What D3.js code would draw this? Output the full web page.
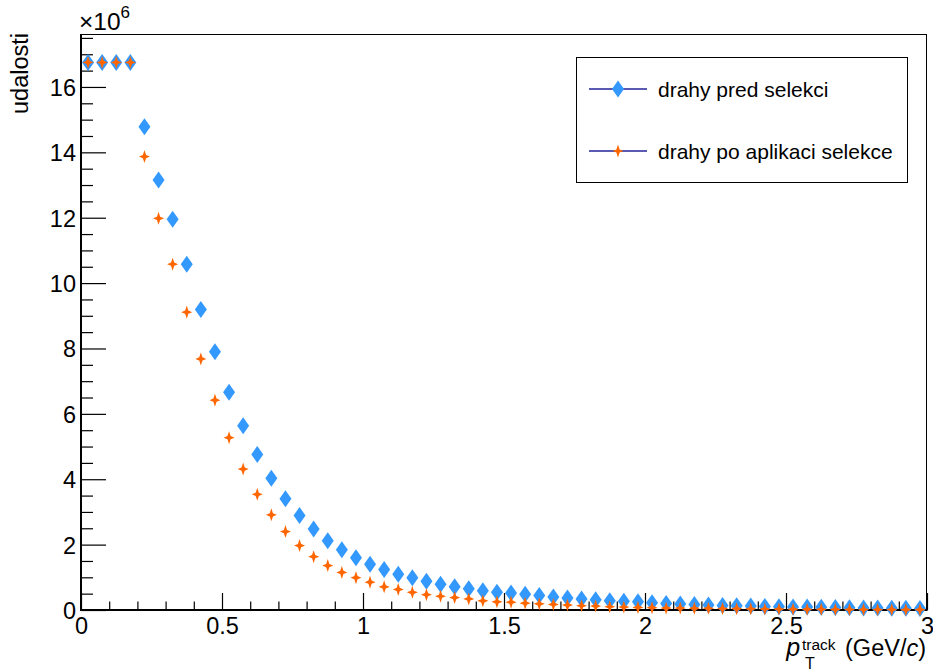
<!DOCTYPE html>
<html>
<head>
<meta charset="utf-8">
<script src="https://cdn.jsdelivr.net/npm/d3@7"></script>
<style>
  html, body { margin: 0; padding: 0; background: #fff; }
  svg { display: block; }
  text { font-family: "Liberation Sans", Arial, Helvetica, sans-serif; fill: #000; }
</style>
</head>
<body>
<svg id="chart" width="933" height="671"></svg>
<script>
// ---------------- DATA ----------------
const xMin = 0, xMax = 3, binWidth = 0.05, nBins = 60;
const seriesNames = ["drahy pred selekci", "drahy po aplikaci selekce"];
// values in units of 10^6
const beforeSel = [
  16.75, 16.75, 16.75, 16.75, 14.78, 13.15, 11.95, 10.58, 9.19, 7.90,
  6.66, 5.64, 4.76, 4.03, 3.40, 2.89, 2.48, 2.12, 1.84, 1.60,
  1.40, 1.24, 1.09, 0.99, 0.88, 0.79, 0.71, 0.65, 0.59, 0.54,
  0.52, 0.48, 0.44, 0.40, 0.37, 0.34, 0.31, 0.28, 0.27, 0.25,
  0.22, 0.20, 0.18, 0.17, 0.15, 0.14, 0.13, 0.12, 0.11, 0.10,
  0.095, 0.088, 0.082, 0.076, 0.070, 0.065, 0.060, 0.056, 0.052, 0.048
];
const afterSel = [
  16.75, 16.75, 16.75, 16.75, 13.87, 11.98, 10.58, 9.11, 7.68, 6.42,
  5.27, 4.31, 3.54, 2.91, 2.40, 1.97, 1.63, 1.36, 1.15, 0.99,
  0.85, 0.71, 0.63, 0.54, 0.47, 0.42, 0.38, 0.34, 0.28, 0.25,
  0.24, 0.21, 0.19, 0.17, 0.15, 0.13, 0.12, 0.10, 0.09, 0.08,
  0.07, 0.06, 0.06, 0.05, 0.05, 0.045, 0.04, 0.035, 0.03, 0.028,
  0.025, 0.022, 0.02, 0.018, 0.016, 0.015, 0.013, 0.012, 0.011, 0.010
];
const xMajorTicks = [0, 0.5, 1, 1.5, 2, 2.5, 3];
const xTickLabels = ["0", "0.5", "1", "1.5", "2", "2.5", "3"];
const yMajorTicks = [0, 2, 4, 6, 8, 10, 12, 14, 16];
const yTickLabels = ["0", "2", "4", "6", "8", "10", "12", "14", "16"];
const yMax = 17.62;

// ---------------- LAYOUT ----------------
const W = 933, H = 671;
const frame = { left: 81, right: 927, top: 34, bottom: 610 };
const colBlue = "#3399ff", colOrange = "#ff6600", colLegLine = "#23239a";
const fontFam = '"Liberation Sans", Arial, Helvetica, sans-serif';

const svg = d3.select("#chart");
svg.append("rect").attr("width", W).attr("height", H).attr("fill", "#fff");

const x = d3.scaleLinear().domain([xMin, xMax]).range([frame.left, frame.right]);
const y = d3.scaleLinear().domain([0, yMax]).range([frame.bottom, frame.top]);

const binCenters = d3.range(nBins).map(i => xMin + binWidth * (i + 0.5));

// frame
svg.append("rect")
  .attr("x", frame.left + 0.5).attr("y", frame.top + 0.5)
  .attr("width", frame.right - frame.left - 1).attr("height", frame.bottom - frame.top)
  .attr("fill", "none").attr("stroke", "#000").attr("stroke-width", 1);

// ---------------- AXES ----------------
// X axis
const xMinor = d3.range(0, 31).map(i => i * 0.1).filter(v => !xMajorTicks.some(m => Math.abs(m - v) < 1e-6));
const xAxisMajor = d3.axisBottom(x).tickValues(xMajorTicks).tickSizeInner(-17).tickSizeOuter(0)
  .tickFormat((d, i) => xTickLabels[i]).tickPadding(25);
const gx = svg.append("g").attr("transform", `translate(0,${frame.bottom})`).call(xAxisMajor);
gx.select(".domain").remove();
gx.selectAll(".tick line").attr("stroke", "#000").attr("stroke-width", 1.2);
gx.selectAll(".tick text").attr("font-size", 23.5).attr("font-family", fontFam).attr("dy", 0).attr("y", 24);
const xAxisMinor = d3.axisBottom(x).tickValues(xMinor).tickSizeInner(-8.5).tickSizeOuter(0).tickFormat("");
const gxm = svg.append("g").attr("transform", `translate(0,${frame.bottom})`).call(xAxisMinor);
gxm.select(".domain").remove();
gxm.selectAll(".tick line").attr("stroke", "#000").attr("stroke-width", 1.2);

// Y axis
const yMinor = d3.range(0, 36).map(i => i * 0.5).filter(v => v <= yMax && !yMajorTicks.includes(v));
const yAxisMajor = d3.axisLeft(y).tickValues(yMajorTicks).tickSizeInner(-25).tickSizeOuter(0)
  .tickFormat((d, i) => yTickLabels[i]).tickPadding(5);
const gy = svg.append("g").attr("transform", `translate(${frame.left},0)`).call(yAxisMajor);
gy.select(".domain").remove();
gy.selectAll(".tick line").attr("stroke", "#000").attr("stroke-width", 1.2);
gy.selectAll(".tick text").attr("font-size", 23.5).attr("font-family", fontFam).attr("x", -5).attr("dy", "0.36em");
const yAxisMinor = d3.axisLeft(y).tickValues(yMinor).tickSizeInner(-12).tickSizeOuter(0).tickFormat("");
const gym = svg.append("g").attr("transform", `translate(${frame.left},0)`).call(yAxisMinor);
gym.select(".domain").remove();
gym.selectAll(".tick line").attr("stroke", "#000").attr("stroke-width", 1.2);

// axis lines (thicker)
svg.append("line").attr("x1", frame.left).attr("x2", frame.right + 0.5)
  .attr("y1", frame.bottom).attr("y2", frame.bottom).attr("stroke", "#000").attr("stroke-width", 2);
svg.append("line").attr("x1", frame.left).attr("x2", frame.left)
  .attr("y1", frame.top).attr("y2", frame.bottom + 1).attr("stroke", "#000").attr("stroke-width", 2);

// ×10^6
const expo = svg.append("text").attr("x", frame.left - 2).attr("y", 30).attr("font-size", 24.5);
expo.append("tspan").text("\u00d710");
expo.append("tspan").attr("dy", -12).attr("font-size", 17).text("6");

// Y title
svg.append("text")
  .attr("transform", `translate(28,${frame.top - 1}) rotate(-90)`)
  .attr("text-anchor", "end").attr("font-size", 23.5).text("udalosti");

// X title (right aligned at frame right)
const titleBase = 656;
const xt = svg.append("g");
const tail = xt.append("text").attr("x", frame.right - 1).attr("y", titleBase).attr("text-anchor", "end").attr("font-size", 23.5);
tail.append("tspan").text("(GeV/");
tail.append("tspan").attr("font-style", "italic").text("c");
tail.append("tspan").text(")");
const tailW = tail.node().getComputedTextLength();
const supX = frame.right - 1 - tailW - 44;
xt.append("text").attr("x", supX + 1).attr("y", titleBase - 6).attr("font-size", 15.5).text("track");
xt.append("text").attr("x", supX + 4).attr("y", titleBase + 13).attr("font-size", 16).text("T");
xt.append("text").attr("x", supX - 1).attr("y", titleBase).attr("text-anchor", "end")
  .attr("font-size", 25).attr("font-style", "italic").text("p");

// ---------------- MARKERS ----------------
const diamondPath = "M0,-8.5L6,0L0,8.5L-6,0Z";
const starPath = "M0,-6.5L1.6,-1.6L5.5,0L1.6,1.6L0,6.5L-1.6,1.6L-5.5,0L-1.6,-1.6Z";

svg.append("g").selectAll("path").data(beforeSel).join("path")
  .attr("d", diamondPath).attr("fill", colBlue)
  .attr("transform", (d, i) => `translate(${x(binCenters[i])},${y(d)})`);
svg.append("g").selectAll("path").data(afterSel).join("path")
  .attr("d", starPath).attr("fill", colOrange)
  .attr("transform", (d, i) => `translate(${x(binCenters[i])},${y(d)})`);

// ---------------- LEGEND ----------------
const leg = { x: 576, y: 57, w: 331, h: 125 };
const lg = svg.append("g");
lg.append("rect").attr("x", leg.x + 0.5).attr("y", leg.y + 0.5).attr("width", leg.w).attr("height", leg.h)
  .attr("fill", "#fff").attr("stroke", "#000").attr("stroke-width", 1);
const legItems = [
  { name: seriesNames[0], path: diamondPath, color: colBlue },
  { name: seriesNames[1], path: starPath, color: colOrange }
];
legItems.forEach((it, i) => {
  const cy = leg.y + 32 + i * 62;
  lg.append("line").attr("x1", leg.x + 13).attr("x2", leg.x + 71).attr("y1", cy).attr("y2", cy)
    .attr("stroke", colLegLine).attr("stroke-width", 1.5);
  lg.append("path").attr("d", it.path).attr("fill", it.color).attr("transform", `translate(${leg.x + 42},${cy})`);
  lg.append("text").attr("x", leg.x + 82).attr("y", cy).attr("dy", "0.36em").attr("font-size", 21).text(it.name);
});
</script>
</body>
</html>
